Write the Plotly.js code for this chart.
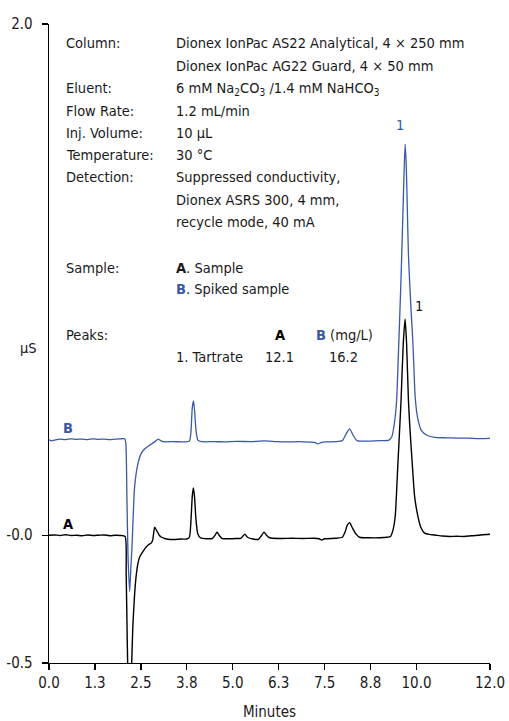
<!DOCTYPE html>
<html>
<head>
<meta charset="utf-8">
<script src="https://cdn.plot.ly/plotly-3.0.1.min.js"></script>
<style>html,body{margin:0;padding:0;background:#fff;}</style>
</head>
<body>
<div id="chart" style="width:509px;height:721px;"></div>
<script>
// ---- Data ----
// Trace A: Sample (black)
const timeA = [0.00,0.15,0.30,0.45,0.60,0.75,0.90,1.05,1.20,1.35,1.50,1.65,1.80,1.95,2.07,2.10,2.13,2.16,2.20,2.24,2.28,2.31,2.34,2.38,2.42,2.47,2.55,2.65,2.72,2.78,2.82,2.875,2.93,3.00,3.06,3.15,3.24,3.40,3.60,3.75,3.82,3.86,3.90,3.93,3.96,4.00,4.05,4.12,4.30,4.45,4.52,4.57,4.63,4.70,4.90,5.10,5.22,5.28,5.33,5.40,5.55,5.70,5.78,5.85,5.92,6.00,6.30,6.60,6.90,7.20,7.35,7.42,7.50,7.80,7.98,8.05,8.12,8.18,8.25,8.35,8.45,8.70,9.00,9.20,9.29,9.36,9.42,9.49,9.545,9.58,9.64,9.69,9.73,9.78,9.82,9.89,9.95,10.04,10.12,10.22,10.35,10.49,10.70,10.90,11.10,11.30,11.50,11.70,11.90,12.00];
const valA  = [0.000,0.001,-0.001,0.002,-0.001,0.000,-0.002,0.001,-0.001,0.000,0.001,-0.002,0.000,-0.001,-0.005,-0.15,-0.42,-0.62,-0.70,-0.55,-0.36,-0.28,-0.21,-0.149,-0.11,-0.084,-0.065,-0.045,-0.036,-0.031,-0.020,0.031,0.018,0.000,-0.008,-0.013,-0.016,-0.017,-0.015,-0.015,-0.008,0.05,0.155,0.185,0.15,0.06,0.005,-0.010,-0.014,-0.012,0.000,0.012,0.000,-0.012,-0.014,-0.013,-0.012,-0.003,0.004,-0.008,-0.015,-0.016,-0.002,0.012,0.000,-0.010,-0.013,-0.012,-0.013,-0.012,-0.014,-0.019,-0.014,-0.012,-0.008,0.010,0.040,0.049,0.030,0.005,-0.008,-0.010,-0.010,-0.008,-0.005,0.020,0.073,0.268,0.425,0.529,0.75,0.846,0.75,0.529,0.42,0.268,0.15,0.073,0.030,0.008,0.003,0.001,-0.003,-0.005,-0.004,-0.005,-0.002,0.000,0.003,0.004];

// Trace B: Spiked sample (blue)
const timeB = [0.00,0.08,0.15,0.30,0.45,0.60,0.75,0.90,1.05,1.20,1.35,1.50,1.65,1.80,1.95,2.06,2.09,2.12,2.15,2.195,2.23,2.26,2.33,2.42,2.51,2.60,2.69,2.80,2.90,2.97,3.03,3.10,3.40,3.70,3.82,3.86,3.90,3.93,3.96,4.00,4.05,4.15,4.50,4.80,5.10,5.50,5.85,6.20,6.50,6.80,7.10,7.25,7.31,7.40,7.55,7.80,7.98,8.08,8.18,8.28,8.38,8.60,9.00,9.25,9.33,9.40,9.46,9.50,9.55,9.60,9.65,9.69,9.72,9.75,9.78,9.82,9.86,9.90,9.965,10.03,10.13,10.30,10.49,10.80,11.10,11.40,11.70,12.00];
const valB  = [0.373,0.369,0.372,0.376,0.374,0.377,0.375,0.376,0.374,0.377,0.375,0.376,0.374,0.376,0.377,0.377,0.36,0.15,-0.08,-0.22,-0.12,-0.04,0.19,0.28,0.32,0.337,0.347,0.358,0.368,0.376,0.371,0.366,0.366,0.365,0.368,0.40,0.50,0.525,0.49,0.41,0.372,0.366,0.366,0.365,0.367,0.366,0.369,0.366,0.365,0.366,0.364,0.362,0.357,0.362,0.365,0.366,0.370,0.395,0.416,0.39,0.370,0.368,0.370,0.372,0.386,0.44,0.529,0.68,0.88,1.103,1.36,1.53,1.45,1.28,1.10,0.97,0.86,0.76,0.54,0.46,0.41,0.39,0.383,0.381,0.380,0.380,0.378,0.379];

// Axis ticks
const xTickVals = [0,1.25,2.5,3.75,5,6.25,7.5,8.75,10,12];
const xTickText = ['0.0','1.3','2.5','3.8','5.0','6.3','7.5','8.8','10.0','12.0'];
const yTickVals = [-0.5,0,2];
const yTickText = ['-0.5','-0.0','2.0'];

const BLUE = '#3a58a8';
const INK = '#1a1a1a';
const FONT = 'Liberation Sans Narrow, DejaVu Sans Condensed, Arial Narrow, sans-serif';
const FS = 14.5;
const TFS = 15;

// Pixel helpers for text placement (plot area: x 49..490, y 24..663)
const L = 49, R = 490, T = 24, B = 663;
function px(x){ return (x - L) / (R - L); }
function py(y){ return (B - y) / (B - T); }

function txt(x, y, text, opts){
  return Object.assign({xref:'paper', yref:'paper', x:px(x), y:py(y), text:text,
    showarrow:false, xanchor:'left', yanchor:'middle',
    font:{family:FONT, size:FS, color:INK}}, opts||{});
}

const annotations = [
  txt(64, 43, 'Column:'),
  txt(174, 43, 'Dionex IonPac AS22 Analytical, 4 × 250 mm'),
  txt(174, 66, 'Dionex IonPac AG22 Guard, 4 × 50 mm'),
  txt(64, 88, 'Eluent:'),
  txt(174, 89, '6 mM Na<sub>2</sub>CO<sub>3</sub> /1.4 mM NaHCO<sub>3</sub>'),
  txt(64, 111, 'Flow Rate:'),
  txt(174, 111, '1.2 mL/min'),
  txt(64, 133, 'Inj. Volume:'),
  txt(174, 133, '10 µL'),
  txt(64, 155, 'Temperature:'),
  txt(174, 155, '30 °C'),
  txt(64, 177, 'Detection:'),
  txt(174, 177, 'Suppressed conductivity,'),
  txt(174, 200, 'Dionex ASRS 300, 4 mm,'),
  txt(174, 222, 'recycle mode, 40 mA'),
  txt(64, 268, 'Sample:'),
  txt(174, 268, '<b>A</b>. Sample'),
  txt(174, 289, '<b><span style="color:'+BLUE+'">B</span></b>. Spiked sample'),
  txt(64, 335, 'Peaks:'),
  txt(280, 335, '<b>A</b>', {xanchor:'center', font:{family:FONT, size:FS, color:'#000'}}),
  txt(314, 335, '<b><span style="color:'+BLUE+'">B</span></b> (mg/L)'),
  txt(174, 357, '1. Tartrate'),
  txt(279, 357, '12.1', {xanchor:'center'}),
  txt(343, 357, '16.2', {xanchor:'center'}),
  // trace labels
  txt(61, 428, '<b>B</b>', {font:{family:FONT, size:FS, color:BLUE}}),
  txt(61, 524, '<b>A</b>', {font:{family:FONT, size:FS, color:'#000'}}),
  // peak labels
  txt(400, 125, '1', {xanchor:'center', font:{family:FONT, size:FS, color:BLUE}}),
  txt(419, 306, '1', {xanchor:'center', font:{family:FONT, size:FS, color:INK}}),
  // y-axis title
  {xref:'paper', yref:'paper', x:px(28), y:py(348), text:'µS', showarrow:false,
   xanchor:'center', yanchor:'middle', font:{family:FONT, size:FS, color:INK}}
];

const traces = [
  {x:timeB, y:valB, type:'scatter', mode:'lines', name:'B. Spiked sample',
   line:{color:BLUE, width:1.3, shape:'spline', smoothing:0.6}, hoverinfo:'skip'},
  {x:timeA, y:valA, type:'scatter', mode:'lines', name:'A. Sample',
   line:{color:'#000', width:1.4, shape:'spline', smoothing:0.6}, hoverinfo:'skip'}
];

const layout = {
  width:509, height:721,
  margin:{l:L, r:509-R, t:T, b:721-B},
  paper_bgcolor:'#fff', plot_bgcolor:'#fff',
  showlegend:false,
  font:{family:FONT, size:FS, color:INK},
  xaxis:{range:[0,12], tickvals:xTickVals, ticktext:xTickText,
    ticks:'outside', ticklen:6, tickwidth:1.3, tickcolor:'#000',
    showline:true, linecolor:'#000', linewidth:1.3,
    showgrid:false, zeroline:false, fixedrange:true,
    tickfont:{family:FONT, size:TFS, color:INK},
    title:{text:'Minutes', font:{family:FONT, size:TFS, color:INK}, standoff:15}},
  yaxis:{range:[-0.5,2.0], tickvals:yTickVals, ticktext:yTickText,
    ticks:'outside', ticklen:6, tickwidth:1.3, tickcolor:'#000',
    showline:true, linecolor:'#000', linewidth:1.3,
    showgrid:false, zeroline:false, fixedrange:true, ticklabelstandoff:6,
    tickfont:{family:FONT, size:TFS, color:INK}},
  annotations:annotations
};

Plotly.newPlot('chart', traces, layout, {displayModeBar:false, staticPlot:true});
</script>
</body>
</html>
